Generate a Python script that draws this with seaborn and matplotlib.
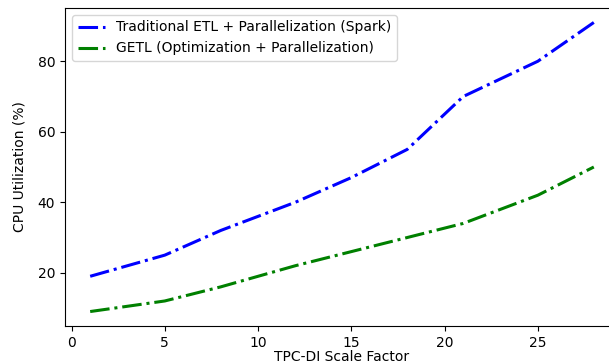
import matplotlib
matplotlib.use("Agg")
import matplotlib.pyplot as plt
import seaborn as sns
import pandas as pd

scale_factor = [1, 5, 8, 10, 12, 15, 18, 21, 25, 28]
spark_cpu = [19, 25, 32, 36, 40, 47, 55, 70, 80, 91]
getl_cpu = [9, 12, 16, 19, 22, 26, 30, 34, 42, 50]
labels = ["Traditional ETL + Parallelization (Spark)",
          "GETL (Optimization + Parallelization)"]

plt.rcParams['font.family'] = ['DejaVu Sans']

fig = plt.figure(figsize=(6.09, 3.64), dpi=100)
W, H = 609, 364
left, right, top, bottom = 65, 619, 8, 326
ax = fig.add_axes([left / W, 1 - bottom / H, (right - left) / W, (bottom - top) / H])

df1 = pd.DataFrame({"x": scale_factor, "y": spark_cpu})
df2 = pd.DataFrame({"x": scale_factor, "y": getl_cpu})
sns.lineplot(data=df1, x="x", y="y", ax=ax, color="blue", linestyle="-.",
             linewidth=2.2, label=labels[0])
sns.lineplot(data=df2, x="x", y="y", ax=ax, color="green", linestyle="-.",
             linewidth=2.2, label=labels[1])

ax.set_xlabel("TPC-DI Scale Factor", fontsize=10, labelpad=0.5)
ax.set_ylabel("CPU Utilization (%)", fontsize=10, labelpad=8)
ax.set_xticks([0, 5, 10, 15, 20, 25])
ax.set_yticks([20, 40, 60, 80])
ax.tick_params(labelsize=10)
ax.legend(loc="upper left", fontsize=10)

fig.savefig("out.png", dpi=100)
